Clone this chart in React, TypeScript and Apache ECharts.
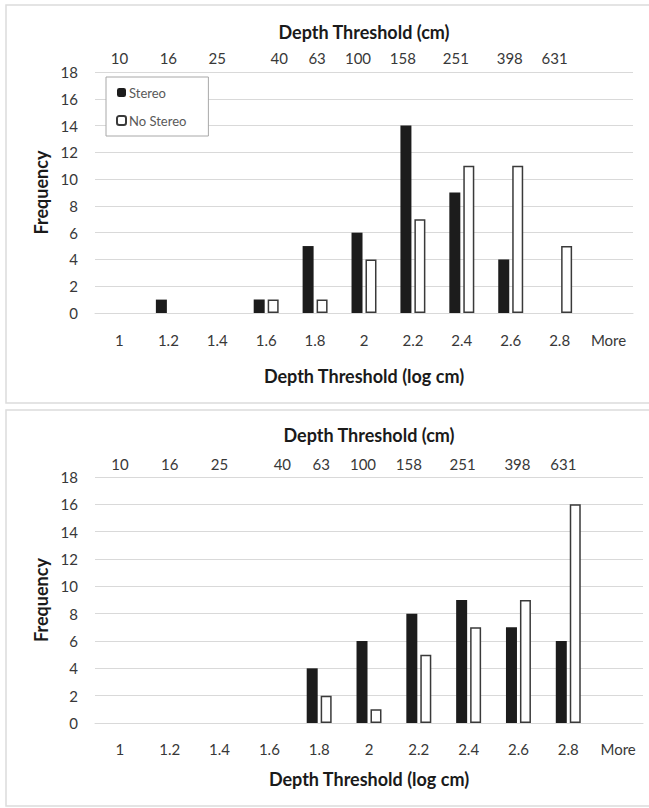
import React, { useEffect, useRef } from "react";
import * as echarts from "echarts";

const logCategories = ["1", "1.2", "1.4", "1.6", "1.8", "2", "2.2", "2.4", "2.6", "2.8", "More"];
const cmLabels = ["10", "16", "25", "40", "63", "100", "158", "251", "398", "631", ""];
const cmLabelShift = [0, 0, 0, 13, 2, -6, -10, -6, -1, -5, 0];

const topStereo = [0, 1, 0, 1, 5, 6, 14, 9, 4, 0, 0];
const topNoStereo = [0, 0, 0, 1, 1, 4, 7, 11, 11, 5, 0];
const bottomStereo = [0, 0, 0, 0, 4, 6, 8, 9, 7, 6, 0];
const bottomNoStereo = [0, 0, 0, 0, 2, 1, 5, 7, 9, 16, 0];

const FONT = "Lato, 'Liberation Sans', sans-serif";
const TICK = "#383838";
const TITLE = "#1a1a1a";
const GRID = "#d9d9d9";

export default function App() {
  const ref = useRef<HTMLDivElement>(null);
  useEffect(() => {
    if (!ref.current) return;
    const chart = echarts.init(ref.current, null, { renderer: "svg" });

    const rich: Record<string, any> = {};
    cmLabelShift.forEach((s, i) => {
      rich["c" + i] = {
        fontSize: 15,
        color: TICK,
        fontFamily: FONT,
        padding: s >= 0 ? [0, 0, 0, 2 * s] : [0, -2 * s, 0, 0],
      };
    });

    const bottomAxis = (gridIndex: number, margin: number, nameGap: number) => ({
      type: "category",
      gridIndex,
      position: "bottom",
      data: logCategories,
      name: "Depth Threshold (log cm)",
      nameLocation: "middle",
      nameGap,
      nameTextStyle: { fontSize: 18, fontWeight: "bold", color: TITLE, fontFamily: FONT },
      axisLine: { show: true, lineStyle: { color: GRID, width: 1 } },
      axisTick: { show: false },
      axisLabel: { interval: 0, margin, fontSize: 15, color: TICK, fontFamily: FONT },
    });

    const topAxis = (gridIndex: number, margin: number, nameGap: number) => ({
      type: "category",
      gridIndex,
      position: "top",
      data: cmLabels,
      name: "Depth Threshold (cm)",
      nameLocation: "middle",
      nameGap,
      nameTextStyle: { fontSize: 18, fontWeight: "bold", color: TITLE, fontFamily: FONT },
      axisLine: { show: false },
      axisTick: { show: false },
      axisLabel: {
        interval: 0,
        margin,
        formatter: (v: string, i: number) => (v ? `{c${i}|${v}}` : ""),
        rich,
      },
    });

    const yAxis = (gridIndex: number) => ({
      type: "value",
      gridIndex,
      min: 0,
      max: 18,
      interval: 2,
      name: "Frequency",
      nameLocation: "middle",
      nameGap: 45,
      nameTextStyle: { fontSize: 18, fontWeight: "bold", color: TITLE, fontFamily: FONT },
      axisLine: { show: false },
      axisTick: { show: false },
      splitLine: { lineStyle: { color: GRID, width: 1 } },
      axisLabel: { margin: 17, fontSize: 15, color: TICK, fontFamily: FONT },
    });

    const blackStyle = { color: "#1c1c1c" };
    const whiteStyle = { color: "#ffffff", borderColor: "#3a3a3a", borderWidth: 1.5 };
    const whiteData = (vals: number[]) =>
      vals.map((v) => (v === 0 ? { value: 0, itemStyle: { borderWidth: 0 } } : v));

    chart.setOption({
      animation: false,
      backgroundColor: "#ffffff",
      textStyle: { fontFamily: FONT },
      graphic: [
        {
          type: "rect",
          shape: { x: 6, y: 5, width: 660, height: 398 },
          style: { fill: "none", stroke: "#dcdcdc", lineWidth: 1.5 },
          silent: true,
        },
        {
          type: "rect",
          shape: { x: 6, y: 410, width: 660, height: 396 },
          style: { fill: "none", stroke: "#dcdcdc", lineWidth: 1.5 },
          silent: true,
        },
      ],
      legend: {
        data: ["Stereo", "No Stereo"],
        orient: "vertical",
        left: 106,
        top: 77,
        padding: [9, 22, 9, 10],
        itemGap: 15,
        itemWidth: 9,
        itemHeight: 9,
        borderColor: "#a8a8a8",
        borderWidth: 1,
        backgroundColor: "#ffffff",
        textStyle: { fontSize: 13, color: "#595959", fontFamily: FONT, padding: [0, 0, 0, -2] },
      },
      grid: [
        { left: 95, top: 72, width: 538, height: 241 },
        { left: 95, top: 477, width: 548, height: 246 },
      ],
      xAxis: [bottomAxis(0, 19, 54), topAxis(0, 7, 31), bottomAxis(1, 18, 47), topAxis(1, 6, 33)],
      yAxis: [yAxis(0), yAxis(1)],
      series: [
        {
          name: "Stereo",
          type: "bar",
          xAxisIndex: 0,
          yAxisIndex: 0,
          data: topStereo,
          barWidth: 11,
          barGap: "27%",
          itemStyle: blackStyle,
        },
        {
          name: "No Stereo",
          type: "bar",
          xAxisIndex: 0,
          yAxisIndex: 0,
          data: whiteData(topNoStereo),
          barWidth: 11,
          barGap: "27%",
          itemStyle: whiteStyle,
        },
        {
          name: "Stereo",
          type: "bar",
          xAxisIndex: 2,
          yAxisIndex: 1,
          data: bottomStereo,
          barWidth: 11,
          barGap: "27%",
          itemStyle: blackStyle,
        },
        {
          name: "No Stereo",
          type: "bar",
          xAxisIndex: 2,
          yAxisIndex: 1,
          data: whiteData(bottomNoStereo),
          barWidth: 11,
          barGap: "27%",
          itemStyle: whiteStyle,
        },
      ],
    });
    return () => chart.dispose();
  }, []);

  return (
    <div
      ref={ref}
      style={{ position: "absolute", left: 0, top: 0, width: 649, height: 808, background: "#fff" }}
    />
  );
}
